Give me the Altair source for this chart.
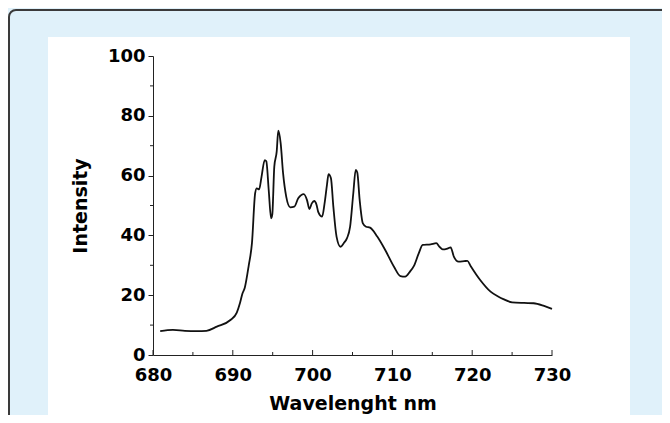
import altair as alt
import pandas as pd

wavelength = [680.9, 682.5, 684.0, 685.5, 686.7, 688.0, 689.7, 690.5, 690.9, 691.2,
              691.5, 692.0, 692.4, 692.8, 693.0, 693.3, 693.6, 694.0, 694.2, 694.5,
              694.8, 694.95, 695.2, 695.5, 695.7, 696.0, 696.3, 696.7, 697.2, 697.7,
              698.2, 698.9, 699.3, 699.6, 699.9, 700.2, 700.5, 700.7, 701.2, 701.5,
              701.8, 702.0, 702.3, 702.6, 703.0, 703.5, 703.9, 704.3, 704.7, 705.1,
              705.4, 705.6, 705.9, 706.3, 706.7, 707.2, 708.1, 709.1, 710.2, 711.0,
              711.6, 712.2, 712.7, 713.3, 713.8, 714.8, 715.5, 715.9, 716.3, 716.9,
              717.3, 717.7, 718.3, 719.0, 719.4, 719.8, 721.0, 722.3, 723.3, 723.9,
              725.0, 726.5, 727.7, 729.0, 730.0]
intensity = [8.0, 8.4, 8.1, 8.0, 8.1, 9.5, 11.7, 14.2, 17.4, 20.5,
             22.5, 30.0, 37.4, 54.1, 55.7, 55.4, 59.6, 65.2, 64.8, 55.2,
             45.7, 47.0, 63.0, 68.0, 75.0, 70.8, 60.8, 52.9, 49.4, 49.6,
             52.4, 53.8, 51.8, 48.8, 50.7, 51.5, 50.2, 47.9, 46.3, 50.7,
             56.9, 60.5, 59.1, 49.6, 39.6, 36.2, 37.4, 39.0, 42.9, 54.1,
             61.9, 61.0, 51.8, 44.0, 42.9, 42.6, 39.6, 35.1, 29.5, 26.4,
             26.2, 27.9, 29.8, 34.0, 36.8, 37.0, 37.4, 36.2, 35.3, 35.6,
             36.0, 32.9, 31.2, 31.4, 31.5, 29.8, 25.1, 21.2, 19.5, 18.7,
             17.6, 17.4, 17.3, 16.4, 15.4]

x_ticks = [680, 690, 700, 710, 720, 730]
x_minor = [685, 695, 705, 715, 725]
y_ticks = [0, 20, 40, 60, 80, 100]
y_minor = [10, 30, 50, 70, 90]

W, H = 399, 299
FONT = "DejaVu Sans"
BORDER = "#3a3a3a"
BLUE = "#E0F1FA"

df = pd.DataFrame({"wavelength": wavelength, "intensity": intensity})

xscale = alt.Scale(domain=[680, 730], nice=False, zero=False)
yscale = alt.Scale(domain=[0, 100], nice=False)

one = alt.Data(values=[{"k": 1}])

border_top = alt.Chart(one).mark_rule(color=BORDER, strokeWidth=2).encode(
    x=alt.value(-137), x2=alt.value(W + 120), y=alt.value(-46)
)
border_left = alt.Chart(one).mark_rule(color=BORDER, strokeWidth=2).encode(
    x=alt.value(-144), y=alt.value(-39), y2=alt.value(H + 70)
)
corner = alt.Chart(one).mark_arc(
    stroke=BORDER, strokeWidth=2, fill=None, radius=7, radius2=7,
    theta=4.712389, theta2=6.283185
).encode(x=alt.value(-137), y=alt.value(-39))

panel = alt.Chart(one).mark_rect(fill="white").encode(
    x=alt.value(-105), x2=alt.value(477), y=alt.value(-19), y2=alt.value(H + 70)
)

line = alt.Chart(df).mark_line(color="#111111", strokeWidth=1.8, interpolate="monotone").encode(
    x=alt.X("wavelength:Q", scale=xscale,
            axis=alt.Axis(title="Wavelenght nm", values=x_ticks, format="d",
                          ticks=True, tickSize=0, labelPadding=11, labelFlush=False,
                          labelOverlap=False, titlePadding=10, zindex=1)),
    y=alt.Y("intensity:Q", scale=yscale,
            axis=alt.Axis(title="Intensity", values=y_ticks, format="d",
                          tickSize=5, labelPadding=3, titlePadding=17, zindex=1)),
)

xmaj = alt.Chart(pd.DataFrame({"t": x_ticks})).mark_rule(color="#222", strokeWidth=1).encode(
    x=alt.X("t:Q", scale=xscale), y=alt.value(H), y2=alt.value(H - 5)
)
xmin = alt.Chart(pd.DataFrame({"t": x_minor})).mark_rule(color="#222", strokeWidth=1).encode(
    x=alt.X("t:Q", scale=xscale), y=alt.value(H), y2=alt.value(H - 3)
)
ymin = alt.Chart(pd.DataFrame({"t": y_minor})).mark_rule(color="#222", strokeWidth=1).encode(
    y=alt.Y("t:Q", scale=yscale), x=alt.value(-3), x2=alt.value(0)
)

chart = alt.layer(border_top, border_left, corner, panel, line, xmaj, xmin, ymin).properties(
    width=W, height=H,
    autosize=alt.AutoSizeParams(type="none"),
    padding={"left": 145, "top": 48, "right": 110, "bottom": 60},
    background=BLUE,
).configure_view(stroke=None).configure_axis(
    grid=False, domainColor="#222", tickColor="#222", domainWidth=1,
    labelFont=FONT, labelFontSize=18, labelFontWeight="bold", labelColor="black",
    titleFont=FONT, titleFontSize=19, titleFontWeight="bold", titleColor="black",
)

chart.save("out.html", embed_options={"renderer": "svg", "actions": False})
